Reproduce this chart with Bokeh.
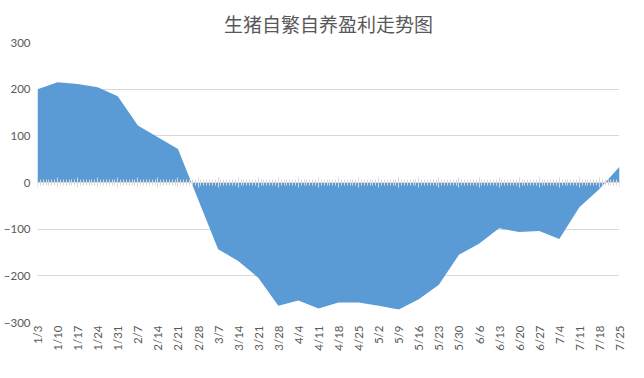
import pandas as pd
from bokeh.plotting import figure
from bokeh.models import (ColumnDataSource, DatetimeAxis, FixedTicker, DatetimeTickFormatter,
                          Title)
from bokeh.embed import file_html
from bokeh.resources import INLINE
from math import pi

# ---- data ----
dates = ["1/3", "1/10", "1/17", "1/24", "1/31", "2/7", "2/14", "2/21", "2/28",
         "3/7", "3/14", "3/21", "3/28", "4/4", "4/11", "4/18", "4/25", "5/2",
         "5/9", "5/16", "5/23", "5/30", "6/6", "6/13", "6/20", "6/27", "7/4",
         "7/11", "7/18", "7/25"]
profit = [200, 215, 211, 204, 185, 122, 97, 72, -36,
          -143, -168, -204, -264, -253, -270, -257, -257, -264,
          -272, -250, -219, -155, -131, -98, -106, -104, -121,
          -53, -14, 34]
y_ticks = [-300, -200, -100, 0, 100, 200, 300]
title_text = "生猪自繁自养盈利走势图"

x = pd.to_datetime(["2021/" + d for d in dates], format="%Y/%m/%d")
src = ColumnDataSource(dict(x=x, y=profit, zero=[0] * len(profit)))

LABEL = "#595959"
GRID = "#d9d9d9"
BLUE = "#5b9bd5"

p = figure(frame_width=582, frame_height=280, x_axis_type="datetime", output_backend="svg",
           toolbar_location=None, x_range=(x[0], x[-1]), y_range=(-300, 300))
p.min_border_left = 32
p.min_border_right = 14
p.min_border_top = 42
p.min_border_bottom = 10
p.outline_line_color = None
p.background_fill_color = "white"
p.border_fill_color = "white"

p.varea(x="x", y1="zero", y2="y", source=src, fill_color=BLUE)

p.title = Title(text=title_text, align="center", text_font="Noto Sans CJK SC",
                text_font_size="19px", text_font_style="normal", text_color=LABEL,
                standoff=12, offset=-9)

week_ms = [t.value // 10**6 for t in x]
day_ms = [t.value // 10**6 for t in pd.date_range(x[0], x[-1], freq="D")]

fmt = DatetimeTickFormatter(days="%-m/%-d", months="%-m/%-d", hours="%-m/%-d",
                            years="%-m/%-d")

# bottom axis: labels only
xa = p.xaxis[0]
xa.ticker = FixedTicker(ticks=week_ms)
xa.formatter = fmt
xa.major_label_orientation = pi / 2
xa.axis_line_color = None
xa.major_tick_line_color = None
xa.minor_tick_line_color = None
xa.major_tick_out = 0
xa.major_tick_in = 0
xa.major_label_text_color = LABEL
xa.major_label_text_font = "Lato"
xa.major_label_text_font_size = "11.5px"
xa.major_label_standoff = 3

# zero line axis with daily ticks
za = DatetimeAxis(fixed_location=0, ticker=FixedTicker(ticks=week_ms, minor_ticks=day_ms),
                  formatter=fmt)
za.axis_line_color = GRID
za.major_tick_line_color = GRID
za.minor_tick_line_color = GRID
za.major_tick_in = 5
za.major_tick_out = 5
za.minor_tick_in = 3
za.minor_tick_out = 3
za.major_label_text_font_size = "0px"
za.major_label_text_alpha = 0
za.major_label_standoff = 0
p.add_layout(za, "above")

ya = p.yaxis[0]
ya.ticker = FixedTicker(ticks=y_ticks)
ya.axis_line_color = None
ya.major_tick_line_color = None
ya.minor_tick_line_color = None
ya.major_tick_out = 0
ya.major_tick_in = 0
ya.major_label_text_color = LABEL
ya.major_label_text_font = "Lato"
ya.major_label_text_font_size = "11.5px"
ya.major_label_standoff = 7

p.xgrid.grid_line_color = None
p.ygrid.grid_line_color = GRID
p.ygrid.ticker = FixedTicker(ticks=y_ticks)

open("out.html", "w").write(file_html(p, INLINE))
